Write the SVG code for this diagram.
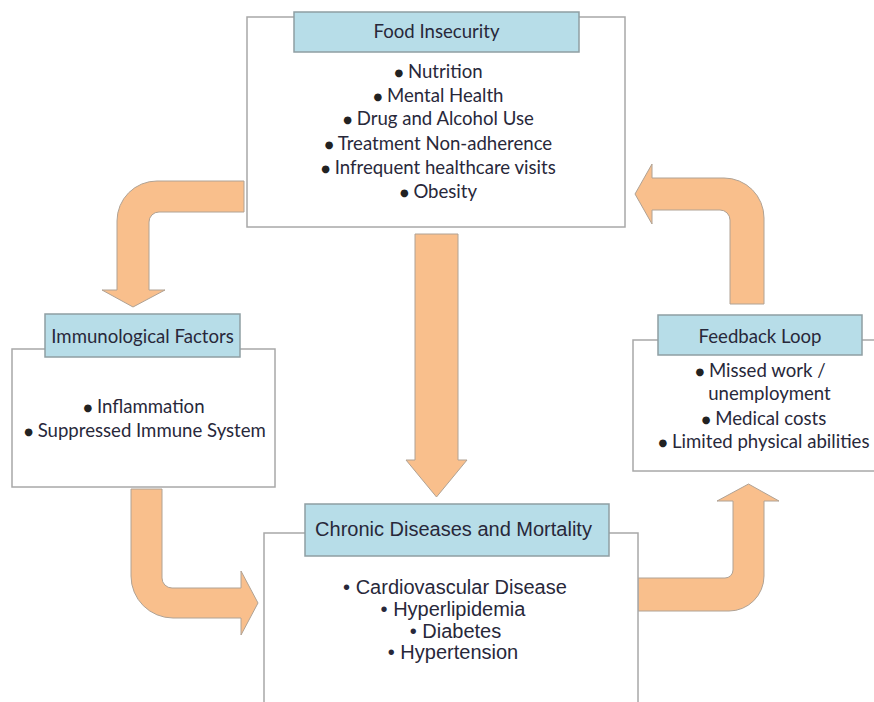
<svg xmlns="http://www.w3.org/2000/svg" width="874" height="702" viewBox="0 0 874 702">
<style>
.box{fill:#ffffff;stroke:#a8a8a8;stroke-width:1.5}
.hdr{fill:#b7dde8;stroke:#8f9ea3;stroke-width:1.5}
.arr{fill:#f9bf8c;stroke:#b0a294;stroke-width:1}
.t{font-family:Lato,"Open Sans","Liberation Sans",sans-serif;font-size:18.6px;fill:#28283a;text-anchor:middle}
.a{font-family:"Liberation Sans",Arial,sans-serif;font-size:20px;fill:#28283a;text-anchor:middle}
.b{font-family:"DejaVu Sans",sans-serif;font-size:10px;fill:#222222;baseline-shift:2px}
</style>
<rect width="874" height="702" fill="#ffffff"/>
<g id="connectors">
<path class="arr" d="M415,234 H458 V460 H467 L436.5,497 L406,460 H415 Z"/>
<path class="arr" d="M244,181 V212 H159 A10,10 0 0 0 149,222 V290 H165 L133,307 L102,290 H117 V221 A40,40 0 0 1 157,181 Z"/>
<path class="arr" d="M730,304 V220 A10,10 0 0 0 720,210 H652 V224 L635,194 L652,164 V178 H724 A40,40 0 0 1 764,218 V304 Z"/>
<path class="arr" d="M131,489 H162 V578 A10,10 0 0 0 172,588 H241 V571 L258,603 L241,635 V618 H173 A42,42 0 0 1 131,576 Z"/>
<path class="arr" d="M638,578 H725 A8,8 0 0 0 733,570 V501 H717 L748.5,484 L779,501 H764 V576 A35,35 0 0 1 729,611 H638 Z"/>
</g>
<g id="food-insecurity">
<rect class="box" x="247" y="17" width="378" height="210"/>
<rect class="hdr" x="294" y="12" width="285" height="40"/>
<text class="t" x="436.5" y="38">Food Insecurity</text>
<text class="t" x="438.5" y="78"><tspan class="b">●</tspan> Nutrition</text>
<text class="t" x="438.5" y="102"><tspan class="b">●</tspan> Mental Health</text>
<text class="t" x="438.5" y="125"><tspan class="b">●</tspan> Drug and Alcohol Use</text>
<text class="t" x="438.5" y="150"><tspan class="b">●</tspan> Treatment Non-adherence</text>
<text class="t" x="438.5" y="174"><tspan class="b">●</tspan> Infrequent healthcare visits</text>
<text class="t" x="438.5" y="198"><tspan class="b">●</tspan> Obesity</text>
</g>
<g id="immunological-factors">
<rect class="box" x="12" y="349" width="263" height="138"/>
<rect class="hdr" x="45" y="314" width="195" height="43"/>
<text class="t" x="142.5" y="343">Immunological Factors</text>
<text class="t" x="144" y="413"><tspan class="b">●</tspan> Inflammation</text>
<text class="t" x="145" y="437"><tspan class="b">●</tspan> Suppressed Immune System</text>
</g>
<g id="feedback-loop">
<rect class="box" x="633" y="340" width="260" height="131"/>
<rect class="hdr" x="658" y="315" width="204" height="40"/>
<text class="t" x="760" y="343">Feedback Loop</text>
<text class="t" x="760.5" y="377"><tspan class="b">●</tspan> Missed work /</text>
<text class="t" x="769.5" y="400">unemployment</text>
<text class="t" x="764" y="425"><tspan class="b">●</tspan> Medical costs</text>
<text class="t" x="764" y="448"><tspan class="b">●</tspan> Limited physical abilities</text>
</g>
<g id="chronic-diseases">
<rect class="box" x="264" y="533" width="374" height="190"/>
<rect class="hdr" x="305" y="504" width="304" height="52"/>
<text class="a" x="453.5" y="536">Chronic Diseases and Mortality</text>
<text class="a" x="455" y="594">• Cardiovascular Disease</text>
<text class="a" x="453" y="616">• Hyperlipidemia</text>
<text class="a" x="455.5" y="638">• Diabetes</text>
<text class="a" x="453" y="659">• Hypertension</text>
</g>
</svg>
